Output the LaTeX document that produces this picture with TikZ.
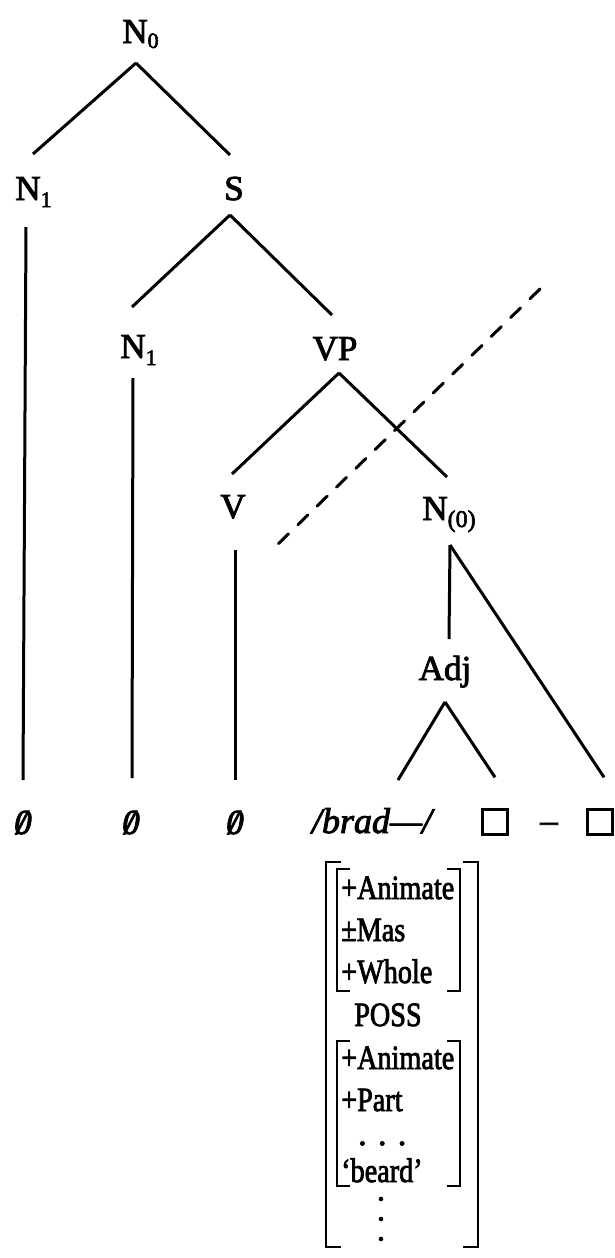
\documentclass[tikz,border=0pt]{standalone}
\usepackage{fontspec}
\setmainfont{Liberation Serif}[FakeBold=2.5]
\usetikzlibrary{calc}
\newcommand\nullsym{\ooalign{\textit{0}\cr\hidewidth\textit{/}\hidewidth\cr}}
\newcommand\smallsub[2]{\rlap{\raisebox{-#1pt}{\fontsize{22}{22}\selectfont #2}}}
\newcommand\cond[1]{\scalebox{0.83}[1]{#1}}
\tikzset{
  lab/.style={anchor=base, inner sep=0pt, font=\fontsize{35}{40}\selectfont},
  edge/.style={line width=3pt},
  dashedge/.style={line width=3pt, line cap=round, dash pattern=on 14pt off 13pt},
  feat/.style={anchor=base west, inner sep=0pt, font=\fontsize{34}{36}\selectfont},
  brk/.style={line width=2.6pt},
  sq/.style={draw, line width=2.4pt, minimum size=25pt, inner sep=0pt},
}
\begin{document}
\begin{tikzpicture}[x=1pt, y=-1pt]
\useasboundingbox (0,0) rectangle (614,1258);
% labels
\node[lab] (N0) at (135,43) {N\smallsub{5}{0}};
\node[lab] (N1a) at (28,200) {N\smallsub{7}{1}};
\node[lab] (S) at (234,200) {S};
\node[lab] (N1b) at (133,358) {N\smallsub{7}{1}};
\node[lab] (VP) at (335,360) {VP};
\node[lab] (V) at (233,518) {V};
\node[lab] (Nz) at (449,520) {N\raisebox{-7pt}{\fontsize{24}{24}\selectfont(0)}};
\node[lab] (Adj) at (445,680) {Adj};
% bottom row
\node[lab] (z1) at (23,834) {\nullsym};
\node[lab] (z2) at (131,834) {\nullsym};
\node[lab] (z3) at (235,834) {\nullsym};
\node[lab, font=\fontsize{36}{40}\selectfont\itshape] (brad) at (372,833) {/brad---/};
\node[sq] (sq1) at (495,822) {};
\node[lab] (hy) at (549,832) {–};
\node[sq] (sq2) at (600,822) {};
% tree edges
\draw[edge] ($(N0.base)+(1,20)$) -- ($(N1a.base)+(5,-46)$);
\draw[edge] ($(N0.base)+(1,20)$) -- ($(S.base)+(-4,-45)$);
\draw[edge] ($(N1a.base)+(-2,27)$) -- ($(z1.base)+(0,-54)$);
\draw[edge] ($(S.base)+(-4,15)$) -- ($(N1b.base)+(-1,-51)$);
\draw[edge] ($(S.base)+(-4,15)$) -- ($(VP.base)+(-3,-45)$);
\draw[edge] ($(N1b.base)+(0,20)$) -- ($(z2.base)+(1,-56)$);
\draw[edge] ($(VP.base)+(4,13)$) -- ($(V.base)+(-1,-44)$);
\draw[edge] ($(VP.base)+(4,13)$) -- ($(Nz.base)+(-2,-43)$);
\draw[edge] ($(V.base)+(2,32)$) -- ($(z3.base)+(0,-54)$);
\draw[edge] ($(Nz.base)+(1,25)$) -- ($(Adj.base)+(4,-41)$);
\draw[edge] ($(Nz.base)+(1,25)$) -- ($(sq2.north)+(4,-31)$);
\draw[edge] ($(Adj.base)+(0,22)$) -- ($(brad.base)+(26,-53)$);
\draw[edge] ($(Adj.base)+(0,22)$) -- ($(sq1.north)+(0,-31)$);
% dashed line
\coordinate (dA) at (540,289);
\coordinate (dB) at (275,547);
\draw[dashedge] (dA) -- (dB);
% feature matrix
\node[feat] (f1) at (341,899) {\cond{+Animate}};
\node[feat] (f2) at (341,941) {\cond{±Mas}};
\node[feat] (f3) at (341,983) {\cond{+Whole}};
\node[feat] (f4) at (354,1026) {\cond{POSS}};
\node[feat] (f5) at (341,1069) {\cond{+Animate}};
\node[feat] (f6) at (341,1111) {\cond{+Part}};
\node[feat] (f7) at (358,1145) {. . .};
\node[feat] (f8) at (341,1182) {\cond{‘beard’}};
\fill (381,1199) circle (2.3pt) (381,1219) circle (2.3pt) (381,1239) circle (2.3pt);
% brackets
\draw[brk] (341,862) -- (326,862) -- (326,1247) -- (341,1247);
\draw[brk] (463,862) -- (478,862) -- (478,1247) -- (463,1247);
\draw[brk] (350,869) -- (337,869) -- (337,991) -- (350,991);
\draw[brk] (447,869) -- (460,869) -- (460,991) -- (447,991);
\draw[brk] (350,1041) -- (337,1041) -- (337,1186) -- (350,1186);
\draw[brk] (447,1041) -- (460,1041) -- (460,1186) -- (447,1186);
\end{tikzpicture}
\end{document}
